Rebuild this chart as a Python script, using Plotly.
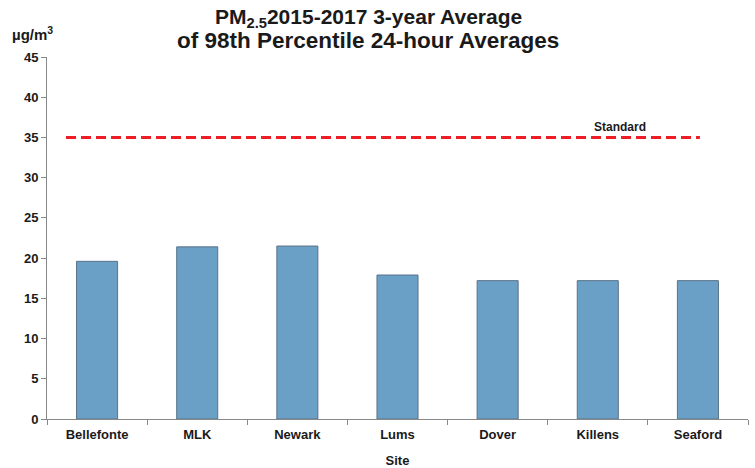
import plotly.graph_objects as go

# Site-level 98th percentile 24-hour PM2.5, 3-year averages (µg/m³)
sites = ["Bellefonte", "MLK", "Newark", "Lums", "Dover", "Killens", "Seaford"]
pm25_98th = [19.6, 21.4, 21.5, 17.9, 17.2, 17.2, 17.2]
standard_value = 35
standard_label = "Standard"

y_ticks = [0, 5, 10, 15, 20, 25, 30, 35, 40, 45]

title_lines = [
    "PM<sub>2.5</sub>2015-2017 3-year Average",
    "of 98th Percentile 24-hour Averages",
]

FONT = "Liberation Sans, Arial, sans-serif"
TXT = "#1a1a1a"

fig = go.Figure()

fig.add_trace(go.Bar(
    x=sites,
    y=pm25_98th,
    marker=dict(color="#6A9FC6", line=dict(color="#5B7387", width=1)),
    width=0.41,
    showlegend=False,
    hoverinfo="x+y",
))

# NAAQS 24-hour standard as a dashed reference line
fig.add_shape(
    type="line", xref="x", yref="y",
    x0=-0.31, x1=6.02, y0=standard_value, y1=standard_value,
    line=dict(color="#EE1C25", width=3, dash="10px,5px"),
)
fig.add_annotation(
    x=5.22, y=standard_value, xref="x", yref="y",
    text="<b>%s</b>" % standard_label, showarrow=False,
    yanchor="bottom", yshift=1,
    font=dict(family=FONT, size=12, color=TXT),
)

# Units label above the y axis
fig.add_annotation(
    x=0.0, y=1.0, xref="paper", yref="paper",
    xanchor="left", yanchor="bottom",
    text="<b>µg/m<sup>3</sup></b>", showarrow=False,
    xshift=-37, yshift=12,
    font=dict(family=FONT, size=15, color=TXT),
)

# Two-line title, set as separate lines for tight leading
for line_text, shift, size in zip(title_lines, [24, 2], [21, 22.5]):
    fig.add_annotation(
        x=0.4586, y=1.0, xref="paper", yref="paper",
        xanchor="center", yanchor="bottom",
        text="<b>%s</b>" % line_text, showarrow=False,
        yshift=shift,
        font=dict(family=FONT, size=size, color=TXT),
    )

fig.update_layout(
    width=755, height=468,
    margin=dict(l=47, r=7, t=57, b=49, autoexpand=False),
    plot_bgcolor="white", paper_bgcolor="white",
    xaxis=dict(
        type="category",
        automargin=False,
        tickson="boundaries",
        ticks="outside", ticklen=5, tickcolor="#888888",
        ticklabelstandoff=3,
        showline=True, linecolor="#888888", linewidth=1,
        showgrid=False, zeroline=False,
        tickfont=dict(family=FONT, size=13, color=TXT, weight="bold"),
        title=dict(text="<b>Site</b>", font=dict(family=FONT, size=13, color=TXT), standoff=15),
        range=[-0.5, 6.5],
    ),
    yaxis=dict(
        range=[0, 45], tickvals=y_ticks,
        automargin=False,
        ticks="outside", ticklen=5, tickcolor="#888888",
        showline=True, linecolor="#888888", linewidth=1,
        showgrid=False, zeroline=False,
        tickfont=dict(family=FONT, size=13, color=TXT, weight="bold"),
    ),
)

fig.write_html("out.html")
